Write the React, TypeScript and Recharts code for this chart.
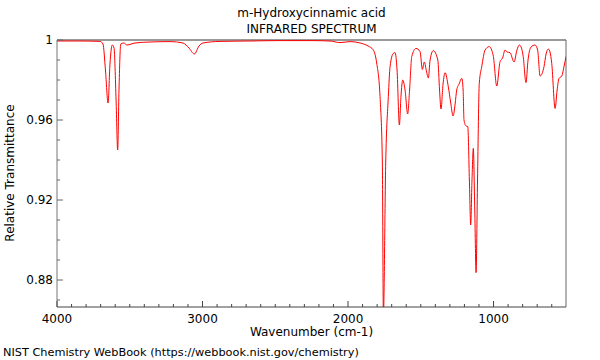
import React from 'react';
import { LineChart, Line, XAxis, YAxis, ReferenceLine } from 'recharts';

// wavenumber (cm-1) and relative transmittance
const wavenumbers = [
  4000, 3842, 3704, 3684, 3667, 3649, 3636, 3620, 3608, 3594, 3583, 3574, 3562, 3540, 3519, 3464,
  3361, 3223, 3134, 3093, 3056, 3024, 2997, 2880, 2674, 2467, 2261, 2124, 2055, 1986, 1917, 1862,
  1826, 1803, 1780, 1764, 1757, 1741, 1723, 1711, 1689, 1677, 1663, 1647, 1636, 1624, 1608, 1590,
  1577, 1562, 1533, 1505, 1489, 1476, 1460, 1448, 1436, 1414, 1383, 1371, 1361, 1347, 1333, 1311,
  1295, 1278, 1264, 1253, 1237, 1218, 1209, 1203, 1189, 1177, 1166, 1157, 1148, 1139, 1129, 1120,
  1110, 1098, 1081, 1058, 1029, 1013, 1001, 978, 955, 938, 921, 907, 887, 859, 839, 823, 808, 796,
  777, 763, 742, 715, 697, 680, 653, 639, 623, 612, 600, 577, 563, 550, 531, 515, 502,
];
const transmittance = [
  0.9995, 0.9995, 0.9993, 0.998, 0.985, 0.9685, 0.988, 0.9975, 0.996, 0.97, 0.945, 0.975, 0.998, 0.9985, 0.9975, 0.9985,
  0.999, 0.9992, 0.9985, 0.996, 0.993, 0.997, 0.9985, 0.9993, 0.9995, 0.9997, 0.9997, 0.9995, 0.9987, 0.9992, 0.9985, 0.997,
  0.995, 0.9885, 0.9717, 0.9385, 0.862, 0.9385, 0.9717, 0.9867, 0.9933, 0.9937, 0.985, 0.9575, 0.972, 0.98, 0.975, 0.963,
  0.975, 0.9917, 0.9958, 0.9942, 0.9853, 0.989, 0.984, 0.981, 0.99, 0.9947, 0.99, 0.975, 0.9655, 0.978, 0.9837, 0.9767,
  0.969, 0.962, 0.968, 0.975, 0.978, 0.9808, 0.975, 0.96, 0.957, 0.9567, 0.93, 0.9075, 0.93, 0.9458, 0.915, 0.8837,
  0.93, 0.9783, 0.9867, 0.995, 0.9967, 0.995, 0.9917, 0.977, 0.9892, 0.991, 0.995, 0.994, 0.9937, 0.989, 0.995, 0.9975, 0.996, 0.9917,
  0.9787, 0.99, 0.9965, 0.9975, 0.995, 0.982, 0.9867, 0.993, 0.9955, 0.994, 0.9883, 0.9658, 0.975, 0.9808, 0.982, 0.987, 0.9917,
];

const xTicks = [
  4000, 3900, 3800, 3700, 3600, 3500, 3400, 3300, 3200, 3100, 3000, 2900, 2800, 2700, 2600, 2500,
  2400, 2300, 2200, 2100, 2000, 1900, 1800, 1700, 1600, 1500, 1400, 1300, 1200, 1100, 1000, 900,
  800, 700, 600,
];
const xLabels = [4000, 3000, 2000, 1000];
const yTicks = [0.87, 0.88, 0.89, 0.9, 0.91, 0.92, 0.93, 0.94, 0.95, 0.96, 0.97, 0.98, 0.99, 1];
const yLabels = ['0.88', '0.92', '0.96', '1'];
const xDomain = [502, 4000];
const yDomain = [0.8665, 1];

const data = wavenumbers.map((w, i) => ({ w, t: transmittance[i] }));

const font = 'DejaVu Sans, sans-serif';

const XTick = (props: any) => {
  const { x, y, payload } = props;
  const major = xLabels.includes(payload.value);
  return (
    <g>
      <line x1={x} x2={x} y1={y} y2={y - (major ? 6 : 3)} stroke="#444" />
      {major && (
        <text x={x} y={y + 16} textAnchor="middle" fontSize={12} fontFamily={font} fill="#000">
          {payload.value}
        </text>
      )}
    </g>
  );
};

const YTick = (props: any) => {
  const { x, y, payload } = props;
  const label = yLabels.find((l) => Math.abs(parseFloat(l) - payload.value) < 1e-6);
  return (
    <g>
      <line x1={x} x2={x + (label ? 6 : 3)} y1={y} y2={y} stroke="#666" />
      {label && (
        <text x={x - 4} y={y + 4} textAnchor="end" fontSize={12} fontFamily={font} fill="#000">
          {label}
        </text>
      )}
    </g>
  );
};

const App = () => {
  return (
    <div style={{ position: 'absolute', left: 0, top: 0, width: 600, height: 360, fontFamily: font, background: '#fff' }}>
      <div style={{ position: 'absolute', left: 57, width: 509, top: 5, textAlign: 'center', fontSize: 12, lineHeight: '16px' }}>
        m-Hydroxycinnamic acid
        <br />
        INFRARED SPECTRUM
      </div>
      <LineChart width={600} height={360} data={data} margin={{ top: 40, right: 34, bottom: 23, left: 17 }}>
        <XAxis
          dataKey="w"
          type="number"
          domain={xDomain}
          reversed
          ticks={xTicks}
          interval={0}
          tickLine={false}
          tickSize={0}
          tickMargin={0}
          tick={<XTick />}
          axisLine={{ stroke: '#444' }}
          height={30}
          allowDataOverflow
        />
        <YAxis
          type="number"
          domain={yDomain}
          ticks={yTicks}
          interval={0}
          tickLine={false}
          tickSize={0}
          tickMargin={0}
          tick={<YTick />}
          axisLine={{ stroke: '#777' }}
          width={40}
          allowDataOverflow
        />
        <ReferenceLine y={1} stroke="#999" strokeWidth={2} ifOverflow="visible" />
        <ReferenceLine x={xDomain[0]} stroke="#666" strokeWidth={1} ifOverflow="visible" />
        <Line type="monotone" dataKey="t" stroke="#ff0000" strokeWidth={1} dot={false} isAnimationActive={false} />
      </LineChart>
      <div style={{ position: 'absolute', left: 57, width: 509, top: 326, textAlign: 'center', fontSize: 12, lineHeight: '13px' }}>
        Wavenumber (cm-1)
      </div>
      <div style={{ position: 'absolute', left: 3, top: 346, fontSize: 11.3, lineHeight: '13px' }}>
        NIST Chemistry WebBook (https://webbook.nist.gov/chemistry)
      </div>
      <div
        style={{
          position: 'absolute',
          left: 10,
          top: 173,
          fontSize: 12,
          whiteSpace: 'nowrap',
          transform: 'translate(-50%, -50%) rotate(-90deg)',
        }}
      >
        Relative Transmittance
      </div>
    </div>
  );
};

export default App;
